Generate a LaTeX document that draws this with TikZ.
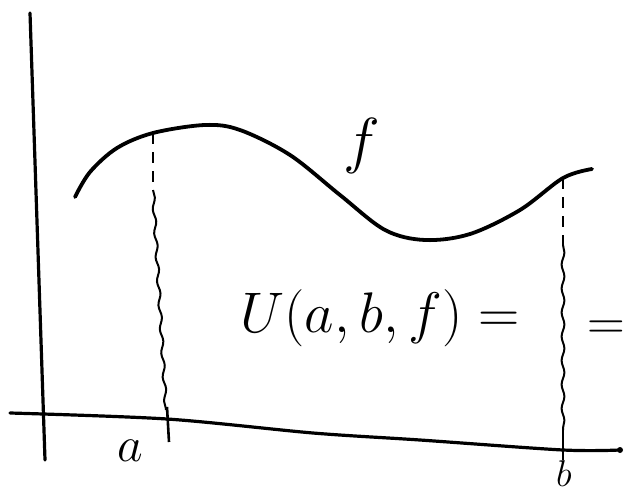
\documentclass[tikz,border=0pt]{standalone}
\usepackage{graphicx}
\usetikzlibrary{decorations.pathmorphing}

\newcommand{\handtext}[2]{\scalebox{#1}{\Huge #2}}

\tikzset{
  axis/.style={line width=3.2pt,line cap=round},
  graph/.style={line width=3.8pt,line cap=round},
  wavy/.style={line width=2pt,decorate,decoration={snake,amplitude=1.4pt,segment length=24pt}},
  dashpart/.style={line width=2pt,dash pattern=on 11pt off 8pt},
  big/.style={inner sep=0pt}
}

\begin{document}
\begin{tikzpicture}[x=1pt,y=-1pt]
  \useasboundingbox (0,0) rectangle (626,495);
  % axes
  \coordinate (ytop) at (30,13);
  \coordinate (ybot) at (45,460);
  \coordinate (xleft) at (10,413);
  \coordinate (xright) at (620,450);
  \draw[axis] (ytop) -- (ybot);
  \draw[axis] plot[smooth,tension=0.5] coordinates {(xleft) (167,419) (313,433) (420,440) (563,450) (xright)};
  \fill (xright) circle (3pt);
  % the graph of f
  \coordinate (fa) at (153,133);
  \coordinate (fb) at (563,178);
  \draw[graph] plot[smooth,tension=0.55] coordinates {(75,197) (90,172) (117,148) (fa) (205,125) (240,130) (290,155) (340,195) (385,230) (425,240) (470,234) (520,210) (fb) (592,169)};
  % verticals at a and b
  \draw[dashpart] (fa) -- (153,190);
  \draw[wavy] (153,190) -- (166,410);
  \draw[line width=2.6pt] (167,407) -- (169,442);
  \draw[dashpart] (fb) -- (563,245);
  \draw[wavy] (563,245) -- (563,430);
  \draw[line width=2pt] (563,430) -- (563,450);
  \draw[line width=2.6pt] (563,450) -- (563,460);
  % labels
  \node[big] (flab) at (362,146) {\handtext{2.5}{$f$}};
  \node[big] (upper) at (380,318) {\handtext{2.3}{$U(a,b,f)=$}};
  \node[big] (eq) at (606,330) {\handtext{2.1}{$=$}};
  \node[big] (alab) at (130,451) {\handtext{2}{$a$}};
  \node[big] (blab) at (564,474) {\handtext{1.5}{$b$}};
\end{tikzpicture}
\end{document}
